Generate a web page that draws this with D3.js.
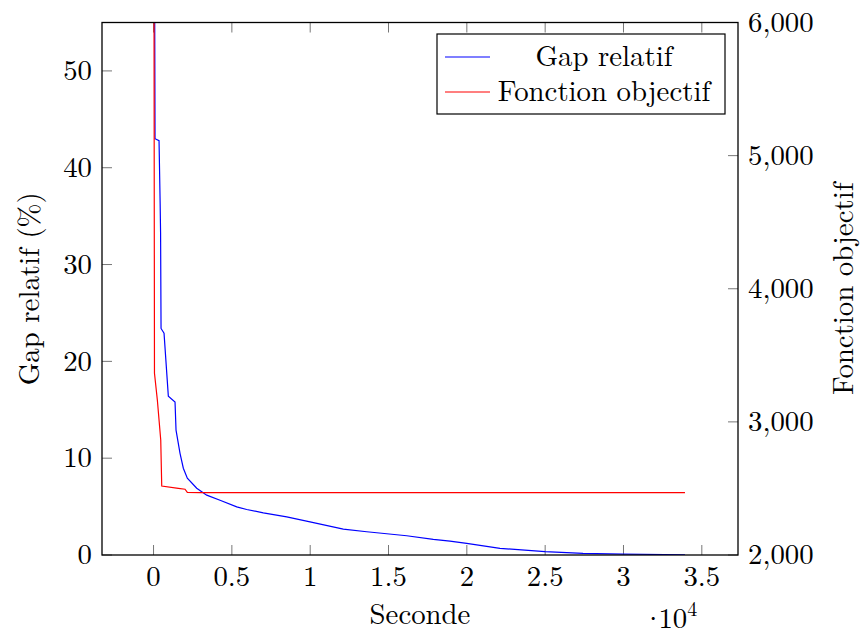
<!DOCTYPE html>
<html>
<head>
<meta charset="utf-8">
<script src="https://cdn.jsdelivr.net/npm/d3@7"></script>
<style>
  body { margin: 0; background: #fff; }
</style>
</head>
<body>
<div class="chart"></div>
<script>
// seconds, relative gap (%)
const gapTime = [0, 96, 351, 420, 450, 479, 670, 945, 1372, 1436, 1691, 1902, 2157, 2757, 3396, 4245, 5311, 5949, 7008, 8502, 9989, 12115, 13608, 16161, 17860, 18923, 19991, 22117, 24991, 27414, 29968, 33925];
const gapValue = [100, 43, 42.8, 36.5, 33.2, 23.4, 22.9, 16.4, 15.8, 12.9, 10.5, 8.96, 7.93, 6.9, 6.18, 5.66, 4.97, 4.7, 4.35, 3.94, 3.43, 2.68, 2.4, 1.99, 1.62, 1.44, 1.2, 0.69, 0.34, 0.17, 0.1, 0.02];

// seconds, objective function
const objTime = [0, 60, 243, 460, 523, 1583, 2011, 2157, 2968, 33925];
const objValue = [9000, 3365, 3164, 2864, 2518, 2501, 2494, 2471, 2468, 2468];

const xTicks = [0, 5000, 10000, 15000, 20000, 25000, 30000, 35000];
const yLeftTicks = [0, 10, 20, 30, 40, 50];
const yRightTicks = [2000, 3000, 4000, 5000, 6000];
const seriesNames = ['Gap relatif', 'Fonction objectif'];

const margin = {top: 22.5, right: 122, bottom: 80, left: 102};
const width = 860 - margin.left - margin.right;
const height = 635 - margin.top - margin.bottom;
const fontFamily = '"Latin Modern Roman", "Liberation Serif", serif';
const fontSize = '28.8px';

let svg = d3.select('.chart')
    .append('svg')
        .attr('width', 860)
        .attr('height', 635)
    .append('g')
    .attr('transform', `translate(${margin.left}, ${margin.top})`);

let xScale = d3.scaleLinear()
    .domain([-3290, 37310])
    .range([0, width]);

let yLeft = d3.scaleLinear()
    .domain([0, 55])
    .range([height, 0]);

let yRight = d3.scaleLinear()
    .domain([2000, 6000])
    .range([height, 0]);

svg.append('clipPath')
    .attr('id', 'plot-clip')
  .append('rect')
    .attr('width', width)
    .attr('height', height);

// ticks (inward, pgfplots style)
const tickLen = 10;
let ticks = svg.append('g')
    .attr('stroke', '#777')
    .attr('stroke-width', 1);
xTicks.forEach(t => {
  ticks.append('line')
      .attr('x1', xScale(t)).attr('x2', xScale(t))
      .attr('y1', height).attr('y2', height - tickLen);
  ticks.append('line')
      .attr('x1', xScale(t)).attr('x2', xScale(t))
      .attr('y1', 0).attr('y2', tickLen);
});
yLeftTicks.forEach(t => {
  ticks.append('line')
      .attr('x1', 0).attr('x2', tickLen)
      .attr('y1', yLeft(t)).attr('y2', yLeft(t));
});
yRightTicks.forEach(t => {
  ticks.append('line')
      .attr('x1', width).attr('x2', width - tickLen)
      .attr('y1', yRight(t)).attr('y2', yRight(t));
});

// tick labels
svg.append('g')
  .selectAll('text')
  .data(xTicks)
  .join('text')
    .attr('x', d => xScale(d))
    .attr('y', height + 31)
    .attr('text-anchor', 'middle')
    .style('font-family', fontFamily)
    .style('font-size', fontSize)
    .text(d => d3.format('')(d / 10000));

svg.append('g')
  .selectAll('text')
  .data(yLeftTicks)
  .join('text')
    .attr('x', -10)
    .attr('y', d => yLeft(d))
    .attr('dy', '0.32em')
    .attr('text-anchor', 'end')
    .style('font-family', fontFamily)
    .style('font-size', fontSize)
    .text(d => d);

svg.append('g')
  .selectAll('text')
  .data(yRightTicks)
  .join('text')
    .attr('x', width + 10)
    .attr('y', d => yRight(d))
    .attr('dy', '0.32em')
    .attr('text-anchor', 'start')
    .style('font-family', fontFamily)
    .style('font-size', fontSize)
    .text(d => d3.format(',')(d));

// lines
let gapLine = d3.line()
    .x((d, i) => xScale(gapTime[i]))
    .y(d => yLeft(d));
let objLine = d3.line()
    .x((d, i) => xScale(objTime[i]))
    .y(d => yRight(d));

let plot = svg.append('g').attr('clip-path', 'url(#plot-clip)');
plot.append('path')
    .datum(gapValue)
    .attr('d', gapLine)
    .attr('fill', 'none')
    .attr('stroke', '#0000ff')
    .attr('stroke-width', 1.2);
plot.append('path')
    .datum(objValue)
    .attr('d', objLine)
    .attr('fill', 'none')
    .attr('stroke', '#ff0000')
    .attr('stroke-width', 1.2);

// frame
svg.append('rect')
    .attr('width', width)
    .attr('height', height)
    .attr('fill', 'none')
    .attr('stroke', '#000')
    .attr('stroke-width', 1.3);

// axis labels
svg.append('text')
    .attr('x', width / 2)
    .attr('y', height + 69)
    .attr('text-anchor', 'middle')
    .style('font-family', fontFamily)
    .style('font-size', fontSize)
    .text('Seconde');

let mult = svg.append('text')
    .attr('x', 642 - margin.left)
    .attr('y', height + 73)
    .style('font-family', fontFamily)
    .style('font-size', fontSize);
mult.append('tspan').text('·');
mult.append('tspan').attr('dx', -6).text('10');
mult.append('tspan')
    .attr('dy', -12)
    .style('font-size', '20px')
    .text('4');

svg.append('text')
    .attr('transform', `translate(${39 - margin.left}, ${height / 2}) rotate(-90)`)
    .attr('text-anchor', 'middle')
    .style('font-family', fontFamily)
    .style('font-size', fontSize)
    .text('Gap relatif (%)');

svg.append('text')
    .attr('transform', `translate(${853 - margin.left}, ${height / 2}) rotate(-90)`)
    .attr('text-anchor', 'middle')
    .style('font-family', fontFamily)
    .style('font-size', fontSize)
    .text('Fonction objectif');

// legend
let legend = svg.append('g')
    .attr('transform', `translate(${437 - margin.left}, ${34 - margin.top})`);
legend.append('rect')
    .attr('width', 288)
    .attr('height', 80)
    .attr('fill', '#fff')
    .attr('stroke', '#000')
    .attr('stroke-width', 1.2);
const legendColors = ['#0000ff', '#ff0000'];
seriesNames.forEach((name, i) => {
  let row = legend.append('g').attr('transform', `translate(0, ${23 + i * 35})`);
  row.append('line')
      .attr('x1', 8).attr('x2', 53)
      .attr('stroke', legendColors[i])
      .attr('stroke-width', 1.2);
  row.append('text')
      .attr('x', 167)
      .attr('dy', '0.3em')
      .attr('text-anchor', 'middle')
      .style('font-family', fontFamily)
      .style('font-size', fontSize)
      .text(name);
});
</script>
</body>
</html>
